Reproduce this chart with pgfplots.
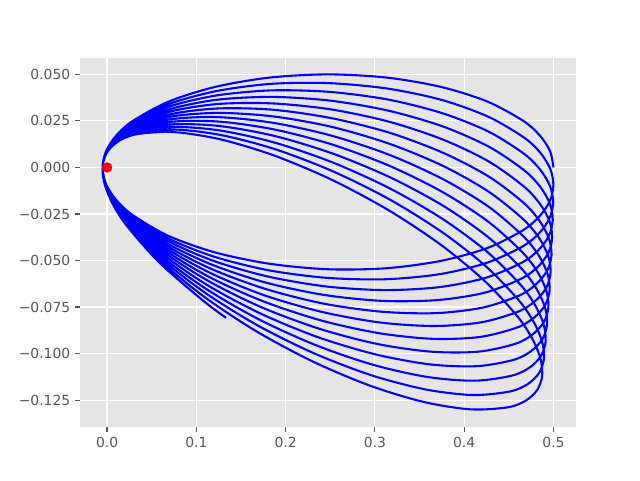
\documentclass[border=0pt]{standalone}
\usepackage{fontspec}
\setmainfont{DejaVu Sans}
\usepackage{pgfplots}
\pgfplotsset{compat=1.18}

\definecolor{panel}{RGB}{229,229,229}
\definecolor{tickgray}{RGB}{85,85,85}

\begin{document}
\begin{tikzpicture}
\begin{axis}[
    scale only axis,
    width=357.1pt, height=266.1pt,
    xmin=-0.0303, xmax=0.5252,
    ymin=-0.1396, ymax=0.0590,
    axis background/.style={fill=panel},
    axis line style={draw=none},
    grid=major,
    major grid style={white, line width=0.8pt},
    tick align=outside,
    major tick length=3.5pt,
    tick style={tickgray, line width=0.8pt},
    xtick={0,0.1,0.2,0.3,0.4,0.5},
    xticklabels={0.0,0.1,0.2,0.3,0.4,0.5},
    ytick={-0.125,-0.1,-0.075,-0.05,-0.025,0,0.025,0.05},
    yticklabels={−0.125,−0.100,−0.075,−0.050,−0.025,0.000,0.025,0.050},
    ticklabel style={font=\fontsize{10}{12}\selectfont, text=tickgray},
    xtick pos=bottom, ytick pos=left,
]
% precessing orbit, one line per revolution
\addplot[blue, line width=1.5pt, smooth, mark=none] coordinates {
(0.5000,0.0000) (0.4962,0.0087) (0.4848,0.0171) (0.4662,0.0250) (0.4260,0.0354) (0.3738,0.0433) (0.3129,0.0483) (0.2475,0.0500) (0.1822,0.0483) (0.1213,0.0433) (0.0690,0.0354) (0.0288,0.0250) (0.0102,0.0171) (-0.0012,0.0087)
(-0.0050,0.0001) (-0.0013,-0.0087) (0.0099,-0.0173) (0.0284,-0.0255) (0.0683,-0.0367) (0.1204,-0.0456) (0.1812,-0.0517) (0.2466,-0.0547) (0.3119,-0.0542) (0.3730,-0.0503) (0.4254,-0.0434) (0.4657,-0.0338) (0.4844,-0.0262) (0.4960,-0.0180) (0.4999,-0.0094) (0.4963,-0.0007) (0.4851,0.0080) (0.4666,0.0162) (0.4267,0.0273) (0.3746,0.0363) (0.3138,0.0424) (0.2484,0.0453) (0.1831,0.0449) (0.1221,0.0410) (0.0696,0.0341) (0.0293,0.0245) (0.0106,0.0169) (-0.0010,0.0087)
(-0.0050,0.0002) (-0.0015,-0.0086) (0.0096,-0.0175) (0.0279,-0.0261) (0.0676,-0.0380) (0.1195,-0.0479) (0.1802,-0.0552) (0.2454,-0.0593) (0.3108,-0.0601) (0.3719,-0.0574) (0.4244,-0.0514) (0.4649,-0.0426) (0.4838,-0.0354) (0.4955,-0.0274) (0.4997,-0.0188) (0.4961,-0.0100) (0.4851,-0.0012) (0.4668,0.0074) (0.4271,0.0193) (0.3751,0.0292) (0.3145,0.0365) (0.2492,0.0406) (0.1838,0.0414) (0.1228,0.0387) (0.0703,0.0328) (0.0298,0.0239) (0.0109,0.0167) (-0.0008,0.0087)
(-0.0050,0.0003) (-0.0017,-0.0086) (0.0093,-0.0177) (0.0274,-0.0266) (0.0669,-0.0392) (0.1186,-0.0501) (0.1791,-0.0585) (0.2443,-0.0639) (0.3096,-0.0659) (0.3707,-0.0644) (0.4234,-0.0594) (0.4640,-0.0513) (0.4830,-0.0445) (0.4949,-0.0367) (0.4992,-0.0283) (0.4959,-0.0194) (0.4850,-0.0103) (0.4668,-0.0014) (0.4274,0.0112) (0.3756,0.0221) (0.3151,0.0305) (0.2499,0.0359) (0.1846,0.0379) (0.1235,0.0364) (0.0709,0.0314) (0.0302,0.0234) (0.0112,0.0165) (-0.0007,0.0088)
(-0.0050,0.0004) (-0.0018,-0.0086) (0.0089,-0.0178) (0.0269,-0.0271) (0.0661,-0.0405) (0.1177,-0.0523) (0.1780,-0.0619) (0.2430,-0.0685) (0.3083,-0.0717) (0.3694,-0.0713) (0.4222,-0.0674) (0.4630,-0.0600) (0.4821,-0.0536) (0.4941,-0.0460) (0.4986,-0.0377) (0.4954,-0.0287) (0.4847,-0.0195) (0.4667,-0.0102) (0.4275,0.0032) (0.3760,0.0150) (0.3156,0.0246) (0.2506,0.0312) (0.1853,0.0344) (0.1242,0.0341) (0.0714,0.0301) (0.0306,0.0228) (0.0115,0.0163) (-0.0005,0.0088)
(-0.0050,0.0005) (-0.0020,-0.0085) (0.0086,-0.0180) (0.0264,-0.0276) (0.0653,-0.0417) (0.1166,-0.0545) (0.1768,-0.0652) (0.2417,-0.0731) (0.3069,-0.0775) (0.3680,-0.0783) (0.4208,-0.0753) (0.4618,-0.0688) (0.4810,-0.0626) (0.4931,-0.0553) (0.4978,-0.0471) (0.4948,-0.0381) (0.4842,-0.0286) (0.4665,-0.0190) (0.4275,-0.0049) (0.3762,0.0079) (0.3160,0.0187) (0.2511,0.0265) (0.1859,0.0310) (0.1248,0.0317) (0.0720,0.0287) (0.0311,0.0222) (0.0118,0.0161) (-0.0003,0.0088)
(-0.0050,0.0006) (-0.0021,-0.0085) (0.0082,-0.0182) (0.0258,-0.0281) (0.0645,-0.0429) (0.1156,-0.0567) (0.1755,-0.0686) (0.2403,-0.0776) (0.3054,-0.0833) (0.3665,-0.0852) (0.4193,-0.0832) (0.4604,-0.0775) (0.4797,-0.0717) (0.4920,-0.0646) (0.4968,-0.0564) (0.4940,-0.0474) (0.4836,-0.0377) (0.4660,-0.0278) (0.4273,-0.0130) (0.3763,0.0008) (0.3163,0.0127) (0.2516,0.0218) (0.1864,0.0274) (0.1254,0.0293) (0.0725,0.0274) (0.0315,0.0216) (0.0121,0.0158) (-0.0002,0.0088)
(-0.0050,0.0007) (-0.0023,-0.0085) (0.0079,-0.0183) (0.0253,-0.0286) (0.0637,-0.0441) (0.1145,-0.0589) (0.1742,-0.0718) (0.2388,-0.0821) (0.3038,-0.0890) (0.3648,-0.0921) (0.4177,-0.0911) (0.4588,-0.0861) (0.4783,-0.0807) (0.4907,-0.0739) (0.4957,-0.0658) (0.4930,-0.0567) (0.4828,-0.0468) (0.4654,-0.0366) (0.4270,-0.0210) (0.3762,-0.0063) (0.3165,0.0067) (0.2519,0.0170) (0.1869,0.0239) (0.1259,0.0270) (0.0730,0.0260) (0.0319,0.0210) (0.0124,0.0156) (0.0000,0.0088)
(-0.0049,0.0008) (-0.0025,-0.0084) (0.0075,-0.0185) (0.0247,-0.0291) (0.0629,-0.0453) (0.1134,-0.0610) (0.1728,-0.0751) (0.2372,-0.0866) (0.3020,-0.0948) (0.3630,-0.0990) (0.4159,-0.0990) (0.4571,-0.0948) (0.4767,-0.0897) (0.4892,-0.0831) (0.4943,-0.0751) (0.4918,-0.0660) (0.4818,-0.0559) (0.4646,-0.0453) (0.4265,-0.0290) (0.3760,-0.0133) (0.3166,0.0008) (0.2522,0.0123) (0.1873,0.0204) (0.1264,0.0246) (0.0735,0.0246) (0.0323,0.0204) (0.0127,0.0154) (0.0002,0.0088)
(-0.0049,0.0008) (-0.0026,-0.0084) (0.0072,-0.0186) (0.0242,-0.0295) (0.0620,-0.0465) (0.1122,-0.0632) (0.1714,-0.0784) (0.2355,-0.0911) (0.3002,-0.1004) (0.3611,-0.1058) (0.4140,-0.1068) (0.4553,-0.1034) (0.4749,-0.0987) (0.4876,-0.0923) (0.4928,-0.0844) (0.4905,-0.0752) (0.4807,-0.0650) (0.4637,-0.0541) (0.4259,-0.0371) (0.3757,-0.0204) (0.3165,-0.0052) (0.2524,0.0075) (0.1877,0.0169) (0.1268,0.0222) (0.0739,0.0232) (0.0326,0.0198) (0.0130,0.0151) (0.0003,0.0088)
(-0.0049,0.0009) (-0.0028,-0.0083) (0.0069,-0.0187) (0.0236,-0.0300) (0.0611,-0.0477) (0.1110,-0.0653) (0.1699,-0.0816) (0.2338,-0.0955) (0.2983,-0.1061) (0.3590,-0.1126) (0.4119,-0.1146) (0.4532,-0.1119) (0.4730,-0.1076) (0.4857,-0.1015) (0.4912,-0.0937) (0.4890,-0.0844) (0.4794,-0.0740) (0.4626,-0.0628) (0.4251,-0.0451) (0.3752,-0.0275) (0.3164,-0.0112) (0.2525,0.0027) (0.1880,0.0133) (0.1272,0.0198) (0.0744,0.0218) (0.0330,0.0192) (0.0133,0.0149) (0.0005,0.0088)
(-0.0049,0.0010) (-0.0029,-0.0083) (0.0065,-0.0188) (0.0231,-0.0304) (0.0602,-0.0488) (0.1097,-0.0673) (0.1683,-0.0848) (0.2319,-0.0999) (0.2962,-0.1117) (0.3568,-0.1193) (0.4096,-0.1223) (0.4510,-0.1204) (0.4709,-0.1165) (0.4837,-0.1106) (0.4893,-0.1029) (0.4873,-0.0937) (0.4779,-0.0831) (0.4613,-0.0715) (0.4242,-0.0531) (0.3747,-0.0346) (0.3161,-0.0171) (0.2525,-0.0020) (0.1882,0.0098) (0.1276,0.0174) (0.0748,0.0204) (0.0334,0.0185) (0.0135,0.0146) (0.0007,0.0087)
(-0.0049,0.0011) (-0.0031,-0.0082) (0.0061,-0.0190) (0.0225,-0.0308) (0.0593,-0.0499) (0.1085,-0.0694) (0.1667,-0.0879) (0.2300,-0.1042) (0.2941,-0.1172) (0.3545,-0.1260) (0.4073,-0.1300) (0.4487,-0.1289) (0.4686,-0.1254) (0.4816,-0.1197) (0.4873,-0.1121) (0.4855,-0.1028) (0.4763,-0.0921) (0.4599,-0.0802) (0.4231,-0.0611) (0.3739,-0.0416) (0.3157,-0.0231) (0.2524,-0.0068) (0.1883,0.0062) (0.1279,0.0150) (0.0751,0.0190) (0.0337,0.0179) (0.0138,0.0144) (0.0008,0.0087)
(-0.0049,0.0012) (-0.0032,-0.0081) (0.0058,-0.0191) (0.0219,-0.0312) (0.0583,-0.0510) (0.1071,-0.0714) (0.1332,-0.0808)
};
% central body
\addplot[only marks, mark=*, mark size=3.5pt, red, mark options={draw=red, fill=red}] coordinates {(0,0)};
\end{axis}
\pgfresetboundingbox
\path ([shift={(-57.6pt,-38pt)}]current axis.south west) rectangle ([shift={(46.1pt,41.5pt)}]current axis.north east);
\end{tikzpicture}
\end{document}
